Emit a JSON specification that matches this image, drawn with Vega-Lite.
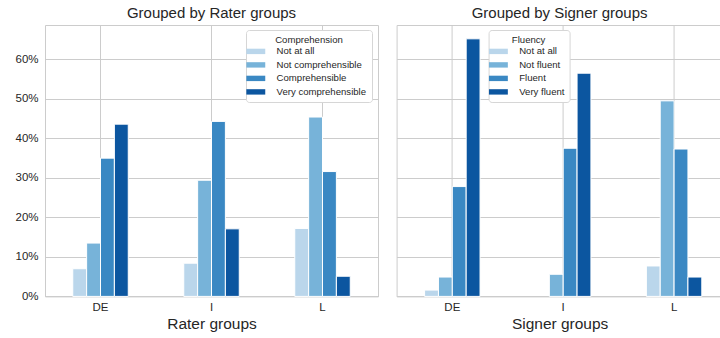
{
  "$schema": "https://vega.github.io/schema/vega-lite/v6.json",
  "padding": {"left": 14, "top": 5, "right": 0, "bottom": 0},
  "background": "white",
  "config": {
    "font": "Liberation Sans",
    "view": {"stroke": "#cccccc", "strokeWidth": 1},
    "axis": {
      "gridColor": "#cccccc", "gridOpacity": 1, "domain": false, "ticks": false,
      "labelColor": "#262626", "titleColor": "#262626",
      "labelFontSize": 11.5, "titleFontSize": 15.5, "titleFontWeight": "normal",
      "labelPadding": 5, "titlePadding": 4
    },
    "title": {"fontSize": 15, "fontWeight": "normal", "color": "#262626", "offset": 4},
    "legend": {
      "orient": "none", "titleFontSize": 9.6, "titleFontWeight": "normal", "titleAnchor": "middle",
      "labelFontSize": 9.6, "labelColor": "#262626", "titleColor": "#262626",
      "symbolType": "M-2.1,-0.6H2.1V0.6H-2.1Z", "symbolSize": 81, "symbolStrokeWidth": 0, "symbolOpacity": 1,
      "fillColor": "white", "strokeColor": "#d6d6d6", "cornerRadius": 3, "padding": 5,
      "rowPadding": 2.5, "labelOffset": 16, "titlePadding": 2
    },
    "concat": {"spacing": 16.6}
  },
  "datasets": {
    "rater": [
      {"group": "DE", "level": "Not at all", "share": 0.070},
      {"group": "DE", "level": "Not comprehensible", "share": 0.135},
      {"group": "DE", "level": "Comprehensible", "share": 0.350},
      {"group": "DE", "level": "Very comprehensible", "share": 0.436},
      {"group": "I", "level": "Not at all", "share": 0.084},
      {"group": "I", "level": "Not comprehensible", "share": 0.294},
      {"group": "I", "level": "Comprehensible", "share": 0.443},
      {"group": "I", "level": "Very comprehensible", "share": 0.171},
      {"group": "L", "level": "Not at all", "share": 0.172},
      {"group": "L", "level": "Not comprehensible", "share": 0.454},
      {"group": "L", "level": "Comprehensible", "share": 0.316},
      {"group": "L", "level": "Very comprehensible", "share": 0.051}
    ],
    "signer": [
      {"group": "DE", "level": "Not at all", "share": 0.016},
      {"group": "DE", "level": "Not fluent", "share": 0.049},
      {"group": "DE", "level": "Fluent", "share": 0.278},
      {"group": "DE", "level": "Very fluent", "share": 0.652},
      {"group": "I", "level": "Not fluent", "share": 0.056},
      {"group": "I", "level": "Fluent", "share": 0.375},
      {"group": "I", "level": "Very fluent", "share": 0.565},
      {"group": "L", "level": "Not at all", "share": 0.077},
      {"group": "L", "level": "Not fluent", "share": 0.495},
      {"group": "L", "level": "Fluent", "share": 0.373},
      {"group": "L", "level": "Very fluent", "share": 0.049}
    ]
  },
  "hconcat": [
    {
      "title": "Grouped by Rater groups",
      "width": 333, "height": 271.4,
      "data": {"name": "rater"},
      "mark": {"type": "bar", "stroke": "white", "strokeWidth": 1},
      "encoding": {
        "x": {"field": "group", "type": "nominal", "sort": ["DE", "I", "L"], "title": "Rater groups",
          "scale": {"paddingInner": 0.5, "paddingOuter": 0.25},
          "axis": {"labelAngle": 0, "grid": true, "bandPosition": 0.5}},
        "xOffset": {"field": "level", "type": "nominal",
          "sort": ["Not at all", "Not comprehensible", "Comprehensible", "Very comprehensible"],
          "scale": {"paddingInner": 0, "paddingOuter": 0}},
        "y": {"field": "share", "type": "quantitative",
          "scale": {"domain": [0, 0.687], "nice": false, "zero": true},
          "axis": {"format": "~%", "values": [0, 0.1, 0.2, 0.3, 0.4, 0.5, 0.6], "title": null, "labelPadding": 7}},
        "color": {"field": "level", "type": "nominal",
          "sort": ["Not at all", "Not comprehensible", "Comprehensible", "Very comprehensible"],
          "scale": {"range": ["#bad6eb", "#77b3d9", "#3a88c3", "#0c56a0"]},
          "legend": {"title": "Comprehension", "legendX": 201, "legendY": 5}}
      }
    },
    {
      "title": "Grouped by Signer groups",
      "width": 326, "height": 271.4,
      "data": {"name": "signer"},
      "mark": {"type": "bar", "stroke": "white", "strokeWidth": 1},
      "encoding": {
        "x": {"field": "group", "type": "nominal", "sort": ["DE", "I", "L"], "title": "Signer groups",
          "scale": {"paddingInner": 0.5, "paddingOuter": 0.22, "align": 0.574},
          "axis": {"labelAngle": 0, "grid": true, "bandPosition": 0.5}},
        "xOffset": {"field": "level", "type": "nominal",
          "sort": ["Not at all", "Not fluent", "Fluent", "Very fluent"],
          "scale": {"paddingInner": 0, "paddingOuter": 0}},
        "y": {"field": "share", "type": "quantitative",
          "scale": {"domain": [0, 0.687], "nice": false, "zero": true},
          "axis": {"labels": false, "values": [0, 0.1, 0.2, 0.3, 0.4, 0.5, 0.6], "title": null}},
        "color": {"field": "level", "type": "nominal",
          "sort": ["Not at all", "Not fluent", "Fluent", "Very fluent"],
          "scale": {"range": ["#bad6eb", "#77b3d9", "#3a88c3", "#0c56a0"]},
          "legend": {"title": "Fluency", "legendX": 92, "legendY": 5}}
      }
    }
  ],
  "resolve": {"scale": {"color": "independent", "x": "independent", "y": "independent", "xOffset": "independent"}, "legend": {"color": "independent"}}
}
